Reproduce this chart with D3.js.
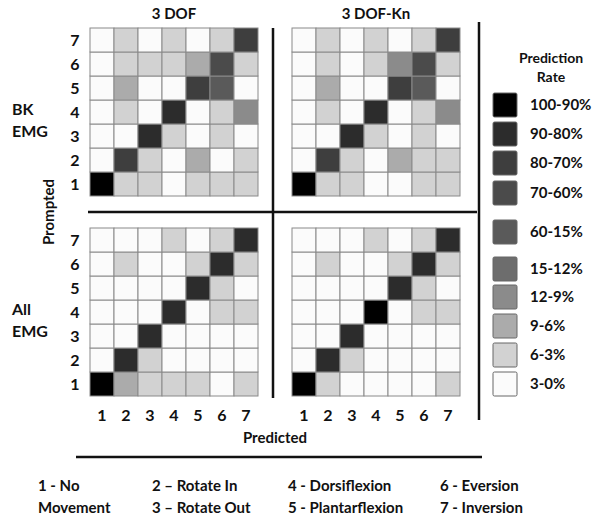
<!DOCTYPE html>
<html>
<head>
<meta charset="utf-8">
<script src="https://d3js.org/d3.v7.min.js"></script>
<style>
  body { margin: 0; background: #fff; }
  text { font-family: Lato, "Open Sans", sans-serif; font-weight: bold; fill: #111; }
</style>
</head>
<body>
<div id="chart"></div>
<script>
// classes 1..7 ; rows listed from prompted 1 (bottom) to prompted 7 (top), values in %
var classes = [1, 2, 3, 4, 5, 6, 7];
var modelNames = ["3 DOF", "3 DOF-Kn"];
var emgNames = [["BK", "EMG"], ["All", "EMG"]];

var bk3dof = [
  [95, 4, 4, 1, 4, 4, 4],
  [1, 75, 4, 1, 7, 1, 4],
  [1, 1, 85, 4, 1, 4, 1],
  [1, 4, 1, 85, 1, 4, 10],
  [1, 7, 1, 1, 75, 40, 1],
  [1, 4, 4, 4, 7, 65, 4],
  [1, 4, 1, 4, 1, 4, 75]
];
var bk3dofKn = [
  [95, 4, 4, 1, 1, 4, 4],
  [1, 75, 4, 1, 7, 4, 4],
  [1, 1, 85, 4, 1, 4, 1],
  [1, 4, 1, 85, 1, 4, 10],
  [1, 7, 1, 1, 75, 40, 1],
  [1, 4, 1, 4, 10, 65, 4],
  [1, 4, 1, 4, 1, 4, 75]
];
var all3dof = [
  [95, 7, 4, 4, 4, 1, 4],
  [1, 85, 4, 1, 1, 1, 1],
  [1, 1, 85, 1, 1, 1, 1],
  [1, 1, 1, 85, 1, 4, 4],
  [1, 1, 1, 1, 85, 4, 1],
  [1, 4, 1, 1, 4, 85, 4],
  [1, 1, 1, 4, 1, 4, 85]
];
var all3dofKn = [
  [95, 4, 1, 1, 1, 1, 4],
  [1, 85, 4, 1, 1, 1, 1],
  [1, 1, 85, 1, 1, 1, 1],
  [1, 1, 1, 95, 1, 4, 4],
  [1, 1, 1, 1, 85, 4, 1],
  [1, 4, 1, 1, 4, 85, 4],
  [1, 1, 1, 4, 1, 4, 85]
];
var matrices = [[bk3dof, bk3dofKn], [all3dof, all3dofKn]];

// legend bins
var binLabels = ["100-90%", "90-80%", "80-70%", "70-60%", "60-15%", "15-12%", "12-9%", "9-6%", "6-3%", "3-0%"];
var binLimits = [3, 6, 9, 12, 15, 60, 70, 80, 90];
var binColors = ["#fbfbfb", "#d2d2d2", "#ababab", "#8b8b8b", "#6d6d6d", "#5a5a5a", "#4b4b4b", "#3e3e3e", "#2c2c2c", "#000000"];

var classNames = [["1 - No", "Movement"], ["2 \u2013 Rotate In", "3 \u2013 Rotate Out"],
                  ["4 - Dorsiflexion", "5 - Plantarflexion"], ["6 - Eversion", "7 - Inversion"]];

var W = 607, H = 517;
var svg = d3.select("#chart").append("svg").attr("width", W).attr("height", H);

var color = d3.scaleThreshold().domain(binLimits).range(binColors);

var size = 168;
var colX = d3.scaleBand().domain(classes).range([0, size]);
var rowY = d3.scaleBand().domain(classes).range([size, 0]);
var panelX = [90, 292], panelY = [28, 228];

matrices.forEach(function(pair, r) {
  pair.forEach(function(m, c) {
    var g = svg.append("g").attr("transform", "translate(" + panelX[c] + "," + panelY[r] + ")");
    var cells = [];
    m.forEach(function(row, i) {
      row.forEach(function(v, j) { cells.push({p: classes[i], q: classes[j], v: v}); });
    });
    g.selectAll("rect").data(cells).enter().append("rect")
      .attr("x", function(d) { return colX(d.q); })
      .attr("y", function(d) { return rowY(d.p); })
      .attr("width", colX.bandwidth())
      .attr("height", rowY.bandwidth())
      .attr("fill", function(d) { return color(d.v); })
      .attr("stroke", "#8a8a8a")
      .attr("stroke-width", 1);

    if (r == 0) {
      g.append("text").attr("x", size / 2).attr("y", -9).attr("text-anchor", "middle")
        .style("font-size", "15px").text(modelNames[c]);
    }
    if (c == 0) {
      g.selectAll(".rl").data(classes).enter().append("text")
        .attr("x", -15).attr("y", function(d) { return rowY(d) + rowY.bandwidth() / 2 + 6; })
        .attr("text-anchor", "middle").style("font-size", "16px").text(function(d) { return d; });
      g.selectAll(".el").data(emgNames[r]).enter().append("text")
        .attr("x", -78).attr("y", function(d, i) { return 87 + i * 22; })
        .style("font-size", "16px").text(function(d) { return d; });
    }
    if (r == 1) {
      g.selectAll(".cl").data(classes).enter().append("text")
        .attr("x", function(d) { return colX(d) + colX.bandwidth() / 2; })
        .attr("y", size + 25).attr("text-anchor", "middle")
        .style("font-size", "16px").text(function(d) { return d; });
    }
  });
});

// axis titles
svg.append("text").attr("transform", "translate(54,212) rotate(-90)").attr("text-anchor", "middle")
  .style("font-size", "15px").text("Prompted");
svg.append("text").attr("x", 275).attr("y", 443).attr("text-anchor", "middle")
  .style("font-size", "15px").text("Predicted");

// dividers
var lines = [
  [273, 28, 273, 398],
  [88, 212, 477, 212],
  [479, 22, 479, 420],
  [76, 457, 482, 457]
];
svg.selectAll(".div").data(lines).enter().append("line")
  .attr("x1", function(d) { return d[0]; }).attr("y1", function(d) { return d[1]; })
  .attr("x2", function(d) { return d[2]; }).attr("y2", function(d) { return d[3]; })
  .attr("stroke", "#111").attr("stroke-width", 2.5);

// legend
var lg = svg.append("g");
lg.append("text").attr("x", 551).attr("y", 63).attr("text-anchor", "middle").style("font-size", "14px").text("Prediction");
lg.append("text").attr("x", 551).attr("y", 82).attr("text-anchor", "middle").style("font-size", "14px").text("Rate");
var legendY = [105, 134, 163, 193, 232, 269, 297, 326, 355, 384];
var legendItems = binLabels.map(function(l, i) { return {label: l, color: binColors[binColors.length - 1 - i], y: legendY[i]}; });
var li = lg.selectAll(".li").data(legendItems).enter().append("g")
  .attr("transform", function(d) { return "translate(493," + d.y + ")"; });
li.append("rect").attr("x", 0).attr("y", -12).attr("width", 24).attr("height", 24).attr("rx", 1.5)
  .attr("fill", function(d) { return d.color; }).attr("stroke", "#666").attr("stroke-width", 1);
li.append("text").attr("x", 37).attr("y", 5).style("font-size", "15px").text(function(d) { return d.label; });

// class names under the chart
var keyX = [38, 152, 288, 440];
classNames.forEach(function(pair, i) {
  svg.selectAll(".k" + i).data(pair).enter().append("text")
    .attr("x", keyX[i]).attr("y", function(d, j) { return 491 + j * 22; })
    .style("font-size", "15px").text(function(d) { return d; });
});
</script>
</body>
</html>
